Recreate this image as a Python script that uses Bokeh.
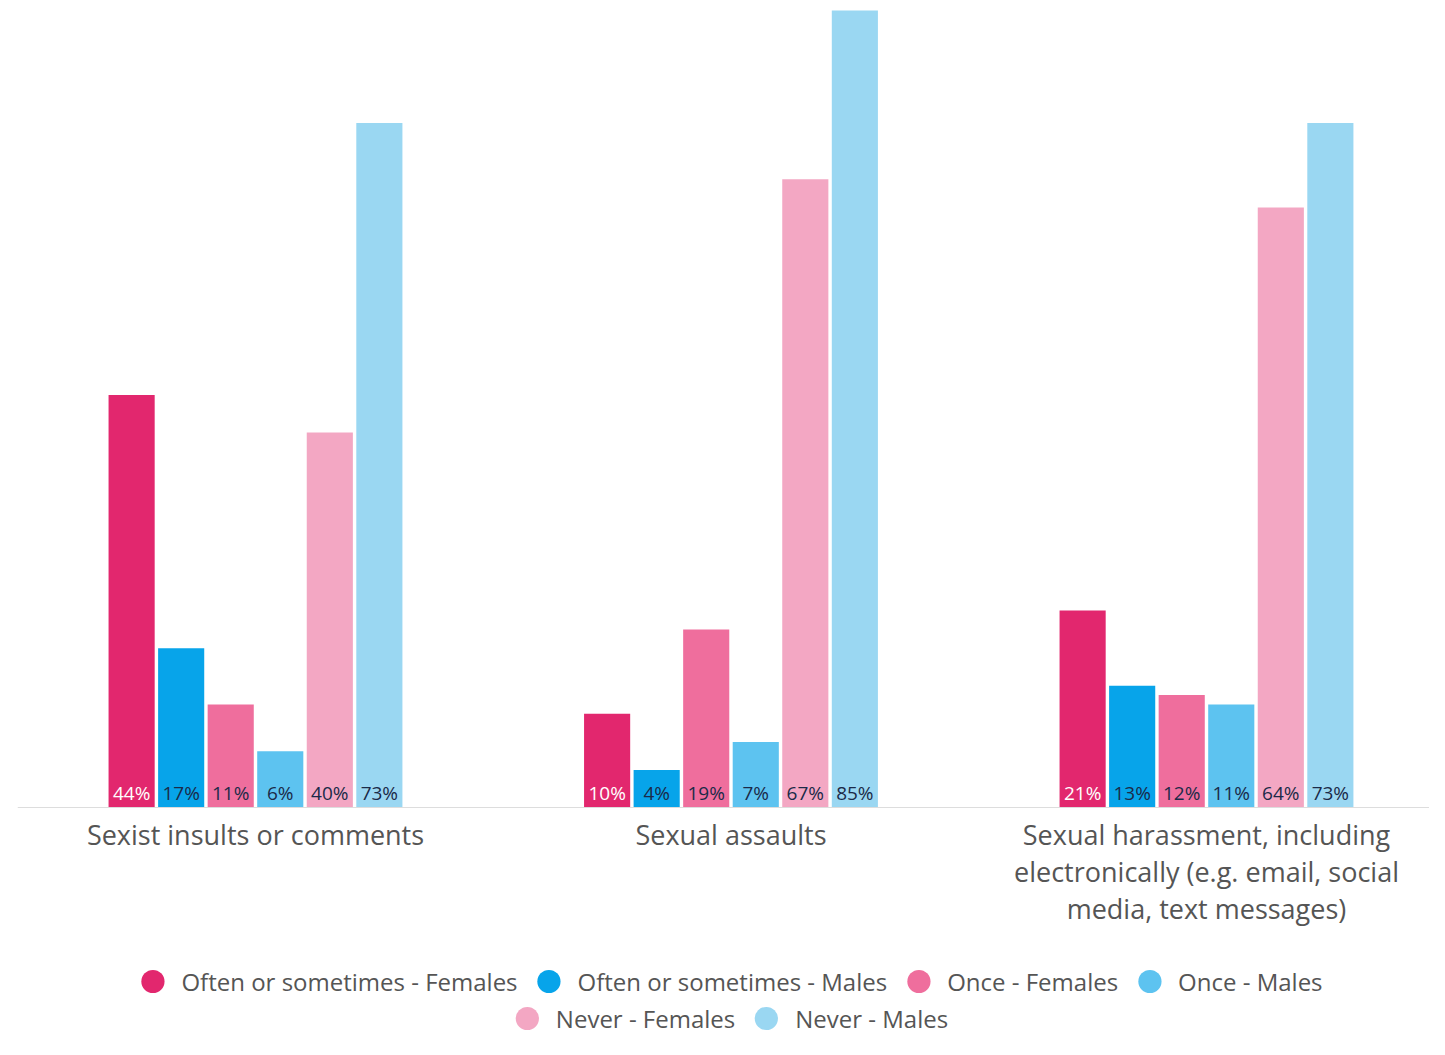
from bokeh.plotting import figure
from bokeh.models import ColumnDataSource, Range1d, Legend, LegendItem, Span
from bokeh.transform import dodge
from bokeh.core.properties import value
from bokeh.embed import file_html
from bokeh.resources import INLINE

categories = ["Sexist insults or comments", "Sexual assaults",
              "Sexual harassment, including electronically (e.g. email, social media, text messages)"]
category_labels = ["Sexist insults or comments", "Sexual assaults",
                   "Sexual harassment, including\nelectronically (e.g. email, social\nmedia, text messages)"]
series_names = ["Often or sometimes - Females", "Often or sometimes - Males", "Once - Females",
                "Once - Males", "Never - Females", "Never - Males"]
often_females = [44, 10, 21]
often_males = [17, 4, 13]
once_females = [11, 19, 12]
once_males = [6, 7, 11]
never_females = [40, 67, 64]
never_males = [73, 85, 73]
series_values = [often_females, often_males, once_females, once_males, never_females, never_males]

colors = ["#E2276E", "#07A4EA", "#EF6E9D", "#5DC3F0", "#F3A7C3", "#9AD7F2"]
label_colors = ["#FFFFFF", "#1B2A48", "#1B2A48", "#1B2A48", "#1B2A48", "#1B2A48"]

FONT = "Open Sans"
cat_index = list(range(len(categories)))

p = figure(x_range=Range1d(-0.5005, 2.469), y_range=Range1d(-24.74, 86.07),
           width=1429, height=1039, output_backend="svg", toolbar_location=None,
           min_border_left=17, min_border_right=0, min_border_top=0, min_border_bottom=0)

step = 0.1042
bw = 0.097
renderers = []
for i, (name, vals) in enumerate(zip(series_names, series_values)):
    src = ColumnDataSource(dict(idx=cat_index, val=vals, lab=[f"{v}%" for v in vals]))
    off = (i - 2.5) * step
    p.vbar(x=dodge("idx", off), top="val", width=bw, source=src,
           fill_color=colors[i], line_color=None)
    p.text(x=dodge("idx", off), y=0, text="lab", source=src,
           text_align="center", text_baseline="bottom", y_offset=-2,
           text_font=value(FONT), text_font_size="19px", text_color=label_colors[i])
    r = p.scatter(x=[0], y=[-1000], marker="circle", size=22,
                  fill_color=colors[i], line_color=None)
    renderers.append(r)

p.add_layout(Span(location=0, dimension="width", line_color="#DDDDDD", line_width=1))

cat_src = ColumnDataSource(dict(idx=cat_index, lab=category_labels))
p.text(x="idx", y=0, text="lab", source=cat_src, text_align="center", text_baseline="top",
       y_offset=8, text_font=value(FONT), text_font_size="27px", text_color="#555555",
       text_line_height=1.0)

p.xaxis.visible = False
p.yaxis.visible = False
p.ygrid.grid_line_color = None
p.xgrid.grid_line_color = None
p.outline_line_color = None

items1 = [LegendItem(label=series_names[i], renderers=[renderers[i]]) for i in range(4)]
items2 = [LegendItem(label=series_names[i], renderers=[renderers[i]]) for i in range(4, 6)]
for items, m in ((items1, 29), (items2, -8)):
    lg = Legend(items=items, orientation="horizontal", location="bottom_center",
                label_text_font=FONT, label_text_font_size="24px", label_text_color="#555555",
                glyph_width=58, glyph_height=58, label_standoff=0, spacing=2,
                border_line_color=None, background_fill_alpha=0, padding=0, margin=m)
    p.add_layout(lg)

open("out.html", "w").write(file_html(p, INLINE))
